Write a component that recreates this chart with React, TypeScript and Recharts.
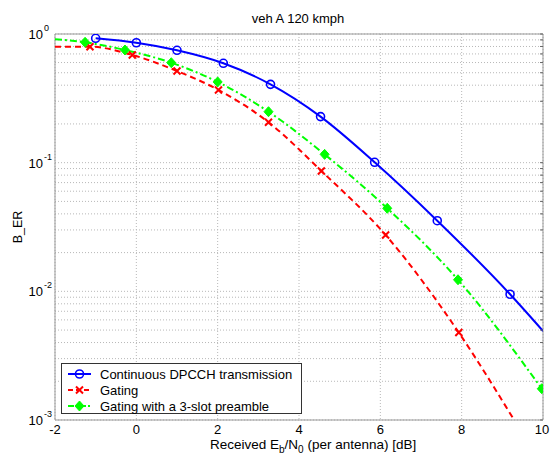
import { LineChart, Line, XAxis, YAxis, CartesianGrid, ReferenceArea, Legend, Customized } from "recharts";

// values (x in dB, y = BER)
const xTicks = [-2, 0, 2, 4, 6, 8, 10];
const yTicks = [
  0.001, 0.002, 0.003, 0.004, 0.005, 0.006, 0.007, 0.008, 0.009,
  0.01, 0.02, 0.03, 0.04, 0.05, 0.06, 0.07, 0.08, 0.09,
  0.1, 0.2, 0.3, 0.4, 0.5, 0.6, 0.7, 0.8, 0.9, 1,
];
const majorY = [0.001, 0.01, 0.1, 1];

const contX = [-1, 0, 1, 2.14, 3.3, 4.53, 5.86, 7.4, 9.19, 10];
const contY = [0.926, 0.855, 0.747, 0.592, 0.406, 0.228, 0.1007, 0.0354, 0.00949, 0.00492];
const contMark = [1, 1, 1, 1, 1, 1, 1, 1, 1, 0];

const gatX = [-2, -1.14, -0.1, 1.0, 2.02, 3.25, 4.55, 6.13, 7.93, 9.29];
const gatY = [0.797, 0.797, 0.687, 0.516, 0.367, 0.206, 0.0862, 0.0274, 0.00478, 0.001];
const gatMark = [0, 1, 1, 1, 1, 1, 1, 1, 1, 0];

const preX = [-2, -1.26, -0.28, 0.86, 2.0, 3.25, 4.63, 6.17, 7.91, 9.97];
const preY = [0.91, 0.862, 0.751, 0.598, 0.424, 0.249, 0.116, 0.0442, 0.0123, 0.00175];
const preMark = [0, 1, 1, 1, 1, 1, 1, 1, 1, 1];

const seriesNames = ["Continuous DPCCH transmission", "Gating", "Gating with a 3-slot preamble"];

const build = (xs: number[], ys: number[], ms: number[]) => xs.map((x, i) => ({ x, y: ys[i], m: ms[i] }));
const contData = build(contX, contY, contMark);
const gatData = build(gatX, gatY, gatMark);
const preData = build(preX, preY, preMark);

const FONT = "'Liberation Sans', Arial, Helvetica, sans-serif";
const BLUE = "#0000ff";
const RED = "#ff0000";
const GREEN = "#00ff00";

function Marker({ kind, x, y }: { kind: string; x: number; y: number }) {
  if (kind === "o") return <circle cx={x} cy={y} r={4} fill="none" stroke={BLUE} strokeWidth={1.6} />;
  if (kind === "x")
    return (
      <path d={`M${x - 3.5},${y - 3.5}L${x + 3.5},${y + 3.5}M${x - 3.5},${y + 3.5}L${x + 3.5},${y - 3.5}`} stroke={RED} strokeWidth={2} />
    );
  return <path d={`M${x},${y - 5}L${x + 4.5},${y}L${x},${y + 5}L${x - 4.5},${y}Z`} fill={GREEN} stroke={GREEN} strokeWidth={1} />;
}

const dot = (kind: string) => (p: any) => {
  if (!p.payload?.m || p.cx == null) return <g key={p.index} />;
  return (
    <g key={p.index}>
      <Marker kind={kind} x={p.cx} y={p.cy} />
    </g>
  );
};

function YTick({ x, y, payload }: any) {
  const v = payload.value;
  if (!majorY.some((m) => Math.abs(m - v) < 1e-9)) return <g />;
  const e = Math.round(Math.log10(v));
  return (
    <g fontFamily={FONT} fill="#000">
      <text x={x - 12} y={y + 5} textAnchor="end" fontSize={13}>10</text>
      <text x={x - 11} y={y - 3} textAnchor="start" fontSize={9}>{e}</text>
    </g>
  );
}

function XTick({ x, y, payload }: any) {
  return (
    <text x={x} y={y + 14} textAnchor="middle" fontSize={13} fontFamily={FONT} fill="#000">
      {payload.value}
    </text>
  );
}

function Texts() {
  return (
    <g fontFamily={FONT} fill="#000">
      <text x={298} y={23} textAnchor="middle" fontSize={13}>veh A 120 kmph</text>
      <text x={22} y={227} textAnchor="middle" fontSize={12.5} transform="rotate(-90 22 227)">B_ER</text>
      <text x={210} y={449} fontSize={13.5}>
        Received E<tspan fontSize={10} dy={4}>b</tspan>
        <tspan dy={-4}>/N</tspan>
        <tspan fontSize={10} dy={4}>0</tspan>
        <tspan dy={-4}> (per antenna) [dB]</tspan>
      </text>
    </g>
  );
}

function LegendBox() {
  const rows = [
    { name: seriesNames[0], color: BLUE, dash: undefined, kind: "o" },
    { name: seriesNames[1], color: RED, dash: "5 3", kind: "x" },
    { name: seriesNames[2], color: GREEN, dash: "6 2 2 2", kind: "d" },
  ];
  return (
    <div
      style={{
        width: 239,
        height: 49,
        border: "1px solid #333",
        background: "#fff",
        fontFamily: FONT,
        fontSize: 13,
        color: "#000",
        position: "relative",
      }}
    >
      {rows.map((r, i) => (
        <div key={r.name} style={{ position: "absolute", left: 0, top: 2 + i * 16, height: 16, display: "flex", alignItems: "center", whiteSpace: "nowrap" }}>
          <svg width={36} height={16} style={{ display: "block" }}>
            <line x1={6} y1={8} x2={29} y2={8} stroke={r.color} strokeWidth={2} strokeDasharray={r.dash} />
            <Marker kind={r.kind} x={17.5} y={8} />
          </svg>
          <span style={{ marginLeft: 2 }}>{r.name}</span>
        </div>
      ))}
    </div>
  );
}

export default function App() {
  return (
    <div style={{ position: "absolute", left: 0, top: 0, width: 550, height: 455, background: "#fff" }}>
      <LineChart width={550} height={455} margin={{ top: 34, right: 7, bottom: 5, left: 10 }}>
        <CartesianGrid yAxisId="l" stroke="#b8b8b8" strokeDasharray="1 2" />
        <XAxis
          dataKey="x"
          type="number"
          domain={[-2, 10]}
          ticks={xTicks}
          allowDataOverflow
          height={30}
          tickSize={0}
          tickMargin={0}
          axisLine={false}
          tick={<XTick />}
        />
        <YAxis
          yAxisId="l"
          dataKey="y"
          scale="log"
          domain={[0.001, 1]}
          ticks={yTicks}
          allowDataOverflow
          width={45}
          tickSize={0}
          tickMargin={0}
          axisLine={false}
          tick={<YTick />}
          interval={0}
        />
        <YAxis
          yAxisId="r"
          orientation="right"
          mirror
          scale="log"
          domain={[0.001, 1]}
          ticks={yTicks}
          allowDataOverflow
          width={1}
          tickSize={3}
          tickLine={{ stroke: "#666" }}
          axisLine={false}
          tick={() => <g />}
          interval={0}
        />
        <ReferenceArea yAxisId="l" x1={-2} x2={10} y1={0.001} y2={1} fill="none" stroke="#999" strokeWidth={1} ifOverflow="visible" />
        <Line yAxisId="l" data={contData} dataKey="y" type="monotone" stroke={BLUE} strokeWidth={2} dot={dot("o")} activeDot={false} isAnimationActive={false} />
        <Line yAxisId="l" data={gatData} dataKey="y" type="monotone" stroke={RED} strokeWidth={2} strokeDasharray="6 4" dot={dot("x")} activeDot={false} isAnimationActive={false} />
        <Line yAxisId="l" data={preData} dataKey="y" type="monotone" stroke={GREEN} strokeWidth={2} strokeDasharray="7 3 2 3" dot={dot("d")} activeDot={false} isAnimationActive={false} />
        <Legend
          layout="horizontal"
          align="center"
          verticalAlign="middle"
          content={() => <LegendBox />}
          wrapperStyle={{ left: 61, top: 363, width: 241, height: 51 }}
        />
        <Customized component={<Texts />} />
      </LineChart>
    </div>
  );
}
